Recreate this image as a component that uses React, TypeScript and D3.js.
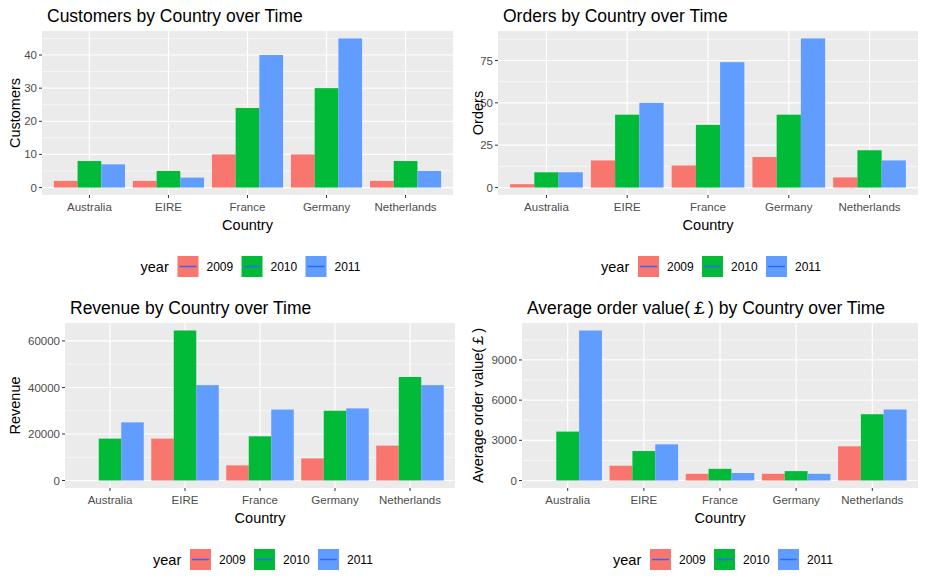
import React from "react";
import * as d3 from "d3";

const countries = ["Australia", "EIRE", "France", "Germany", "Netherlands"];
const years = ["2009", "2010", "2011"];
const colors = ["#F8766D", "#00BA38", "#619CFF"];

const customers = [[2, 8, 7], [2, 5, 3], [10, 24, 40], [10, 30, 45], [2, 8, 5]];
const orders = [[2, 9, 9], [16, 43, 50], [13, 37, 74], [18, 43, 88], [6, 22, 16]];
const revenue = [[0, 18000, 25000], [18000, 64500, 41000], [6500, 19000, 30500], [9500, 30000, 31000], [15000, 44500, 41000]];
const aov = [[0, 3650, 11200], [1100, 2200, 2700], [500, 870, 560], [500, 700, 500], [2550, 4950, 5300]];

const custTicks = [0, 10, 20, 30, 40];
const orderTicks = [0, 25, 50, 75];
const revTicks = [0, 20000, 40000, 60000];
const aovTicks = [0, 3000, 6000, 9000];

const FONT = "Liberation Sans, Arial, sans-serif";

type PanelProps = {
  title: string; ylab: string; data: number[][]; ticks: number[];
  x0: number; x1: number; y0: number; y1: number; ylabX: number;
};

function Panel({ title, ylab, data, ticks, x0, x1, y0, y1, ylabX }: PanelProps) {
  const max = d3.max(data.flat()) as number;
  const y = d3.scaleLinear().domain([-0.05 * max, max * 1.05]).range([y1, y0]);
  const x = d3.scaleBand().domain(countries).range([x0, x1]).paddingInner(0.1).paddingOuter(0.6 / 1.2);
  const xs = d3.scaleBand().domain(countries).range([x0, x1]).padding(0);
  // ggplot discrete: expand 0.6 units each side
  const n = countries.length;
  const unit = (x1 - x0) / (n - 1 + 1.2);
  const cx = (i: number) => x0 + unit * (0.6 + i);
  const bw = unit * 0.9 / 3;
  const step = ticks[1] - ticks[0];
  const minors = ticks.map(t => t + step / 2).filter(t => y(t) > y0);
  const center = (x0 + x1) / 2;
  const ly = y1 + 72;
  const lx = center - 107;
  void x; void xs;
  return (
    <g fontFamily={FONT}>
      <text x={x0 + 5} y={y0 - 9} fontSize={17.5} fill="#000">{title}</text>
      <rect x={x0} y={y0} width={x1 - x0} height={y1 - y0} fill="#EBEBEB" />
      {minors.map(t => <line key={"m" + t} x1={x0} x2={x1} y1={y(t)} y2={y(t)} stroke="#fff" strokeWidth={0.6} />)}
      {ticks.map(t => <line key={t} x1={x0} x2={x1} y1={y(t)} y2={y(t)} stroke="#fff" strokeWidth={1.2} />)}
      {countries.map((c, i) => <line key={c} x1={cx(i)} x2={cx(i)} y1={y0} y2={y1} stroke="#fff" strokeWidth={1.2} />)}
      {data.map((row, i) => row.map((v, j) => v > 0 ? (
        <rect key={i + "-" + j} x={cx(i) - 1.5 * bw + j * bw} width={bw} y={y(v)} height={y(0) - y(v)} fill={colors[j]} />
      ) : null))}
      {ticks.map(t => (
        <g key={"t" + t}>
          <line x1={x0 - 3} x2={x0} y1={y(t)} y2={y(t)} stroke="#333" />
          <text x={x0 - 5} y={y(t)} dy="0.35em" textAnchor="end" fontSize={11.5} fill="#4D4D4D">{t}</text>
        </g>
      ))}
      {countries.map((c, i) => (
        <g key={"x" + c}>
          <line x1={cx(i)} x2={cx(i)} y1={y1} y2={y1 + 3} stroke="#333" />
          <text x={cx(i)} y={y1 + 16} textAnchor="middle" fontSize={11.5} fill="#4D4D4D">{c}</text>
        </g>
      ))}
      <text x={center} y={y1 + 35} textAnchor="middle" fontSize={14.5}>Country</text>
      <text transform={`translate(${ylabX},${(y0 + y1) / 2}) rotate(-90)`} textAnchor="middle" fontSize={14.5}>{ylab}</text>
      <text x={lx} y={ly + 5} fontSize={14.5}>year</text>
      {years.map((yr, j) => (
        <g key={yr} transform={`translate(${lx + 37 + j * 64},${ly - 11})`}>
          <rect width={21} height={21} fill={colors[j]} />
          <line x1={2} x2={19} y1={10.5} y2={10.5} stroke="#3366FF" strokeWidth={1.5} />
          <text x={29} y={15} fontSize={12}>{yr}</text>
        </g>
      ))}
    </g>
  );
}

export default function App() {
  return (
    <svg width={927} height={585} style={{ position: "absolute", left: 0, top: 0 }}>
      <rect width={927} height={585} fill="#fff" />
      <Panel title="Customers by Country over Time" ylab="Customers" data={customers} ticks={custTicks}
        x0={42} x1={453} y0={31} y1={195} ylabX={20} />
      <Panel title="Orders by Country over Time" ylab="Orders" data={orders} ticks={orderTicks}
        x0={498} x1={918} y0={31} y1={195} ylabX={483} />
      <Panel title="Revenue by Country over Time" ylab="Revenue" data={revenue} ticks={revTicks}
        x0={65} x1={455} y0={323} y1={488} ylabX={20} />
      <Panel title="Average order value(￡) by Country over Time" ylab="Average order value(￡)" data={aov} ticks={aovTicks}
        x0={522} x1={918} y0={323} y1={488} ylabX={483} />
    </svg>
  );
}
